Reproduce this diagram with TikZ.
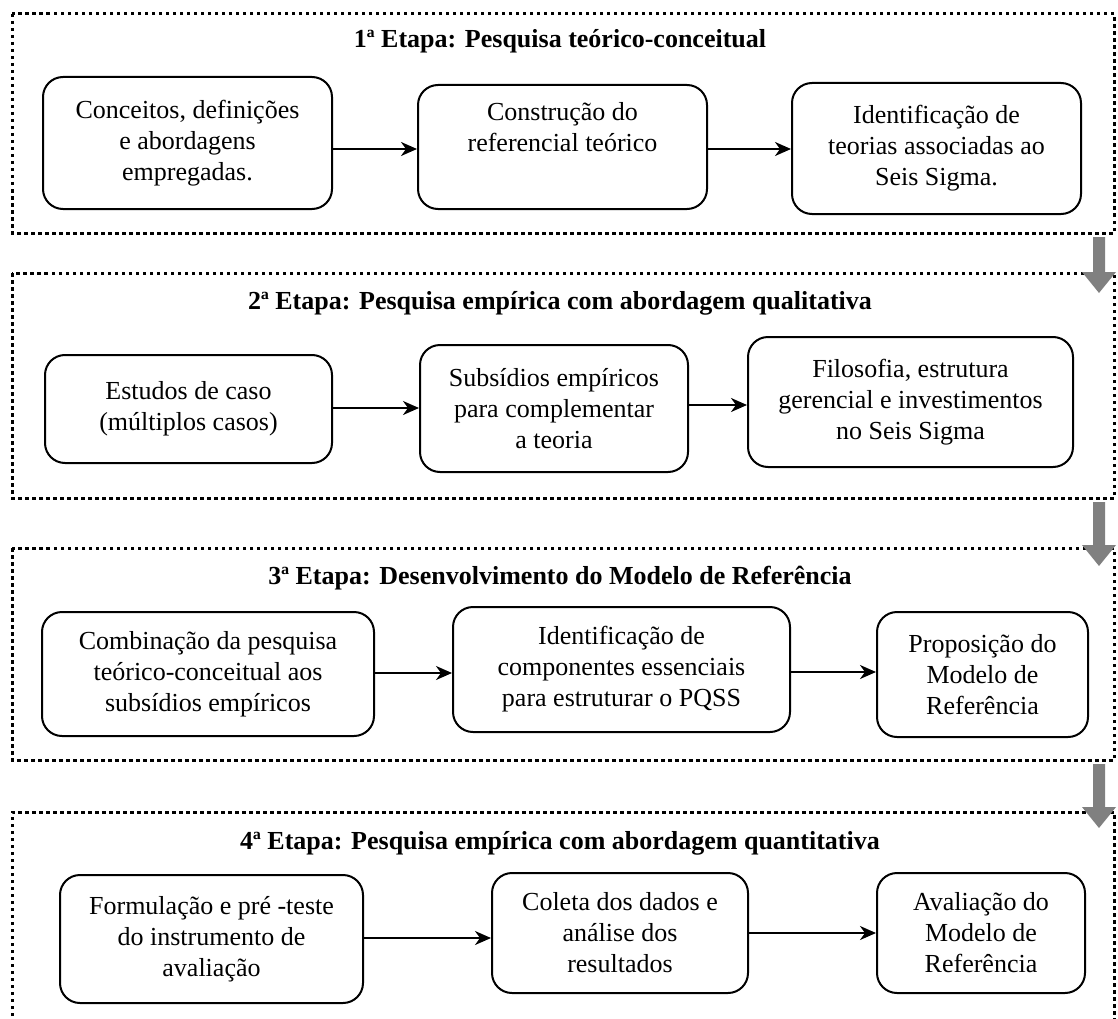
\documentclass[tikz,border=0pt]{standalone}
\usepackage{fontspec}
\setmainfont{Liberation Serif}
\usetikzlibrary{arrows.meta}
\definecolor{stagegray}{RGB}{128,128,128}
% wide grey arrow between two stages: #1 = top of shaft, #2 = tip
\newcommand\stagearrow[2]{%
  \fill[stagegray] (1093,#1) -- (1105,#1) -- (1105,#2-21) -- (1116,#2-21)
    -- (1099,#2) -- (1082,#2-21) -- (1093,#2-21) -- cycle;}
\begin{document}
\begin{tikzpicture}[x=1pt,y=-1pt,
  frame/.style={line width=3pt, dash pattern=on 3.5pt off 3.5pt},
  box/.style={draw, line width=2pt, rounded corners=20pt, align=center,
    inner sep=0pt, font=\fontsize{26}{31}\selectfont},
  title/.style={font=\fontsize{26}{30}\selectfont\bfseries},
  link/.style={line width=2pt, -{Stealth[length=16pt,width=14pt,inset=5pt]}}]
\useasboundingbox (0,0) rectangle (1118,1019);

% stage frames
\draw[frame] (12,14) rectangle (1114,233);
\draw[frame] (12,273) rectangle (1114,498);
\draw[frame] (12,548) rectangle (1114,760);
\draw[frame] (12,1030) -- (12,812) -- (1114,812) -- (1114,1030);

% stage titles
\node[title] (t1) at (560,41) {1ª Etapa: Pesquisa teórico-conceitual};
\node[title] (t2) at (560,303) {2ª Etapa: Pesquisa empírica com abordagem qualitativa};
\node[title] (t3) at (560,578) {3ª Etapa: Desenvolvimento do Modelo de Referência};
\node[title] (t4) at (560,843) {4ª Etapa: Pesquisa empírica com abordagem quantitativa};

% stage 1
\node[box, minimum width=289pt, minimum height=132pt] (a) at (187.5,143)
  {Conceitos, definições\\e abordagens\\empregadas.};
\node[box, minimum width=289pt, minimum height=124pt] (b) at (562.5,147)
  {Construção do\\referencial teórico\\\strut};
\node[box, minimum width=289pt, minimum height=131pt] (c) at (936.5,148.5)
  {Identificação de\\teorias associadas ao\\Seis Sigma.};

% stage 2
\node[box, minimum width=287pt, minimum height=108pt] (d) at (188.5,409)
  {Estudos de caso\\(múltiplos casos)};
\node[box, minimum width=268pt, minimum height=127pt] (e) at (554,408.5)
  {Subsídios empíricos\\para complementar\\a teoria};
\node[box, minimum width=325pt, minimum height=130pt] (f) at (910.5,402)
  {Filosofia, estrutura\\gerencial e investimentos\\no Seis Sigma};

% stage 3
\node[box, minimum width=332pt, minimum height=124pt] (g) at (208,674)
  {Combinação da pesquisa\\teórico-conceitual aos\\subsídios empíricos};
\node[box, minimum width=337pt, minimum height=125pt] (h) at (621.5,669.5)
  {Identificação de\\componentes essenciais\\para estruturar o PQSS};
\node[box, minimum width=211pt, minimum height=125pt] (i) at (982.5,674.5)
  {Proposição do\\Modelo de\\Referência};

% stage 4
\node[box, minimum width=303pt, minimum height=128pt] (j) at (211.5,939)
  {Formulação e pré -teste\\do instrumento de\\avaliação};
\node[box, minimum width=256pt, minimum height=120pt] (k) at (620,933)
  {Coleta dos dados e\\análise dos\\resultados};
\node[box, minimum width=208pt, minimum height=120pt] (l) at (981,933)
  {Avaliação do\\Modelo de\\Referência};

% links inside each stage
\draw[link] (a.east |- 0,149) -- (b.west |- 0,149);
\draw[link] (b.east |- 0,149) -- (c.west |- 0,149);
\draw[link] (d.east |- 0,408) -- (e.west |- 0,408);
\draw[link] (e.east |- 0,405) -- (f.west |- 0,405);
\draw[link] (g.east |- 0,673) -- (h.west |- 0,673);
\draw[link] (h.east |- 0,672) -- (i.west |- 0,672);
\draw[link] (j.east |- 0,938) -- (k.west |- 0,938);
\draw[link] (k.east |- 0,933) -- (l.west |- 0,933);

% arrows between stages
\stagearrow{237}{293}
\stagearrow{502}{566}
\stagearrow{764}{828}
\end{tikzpicture}
\end{document}
